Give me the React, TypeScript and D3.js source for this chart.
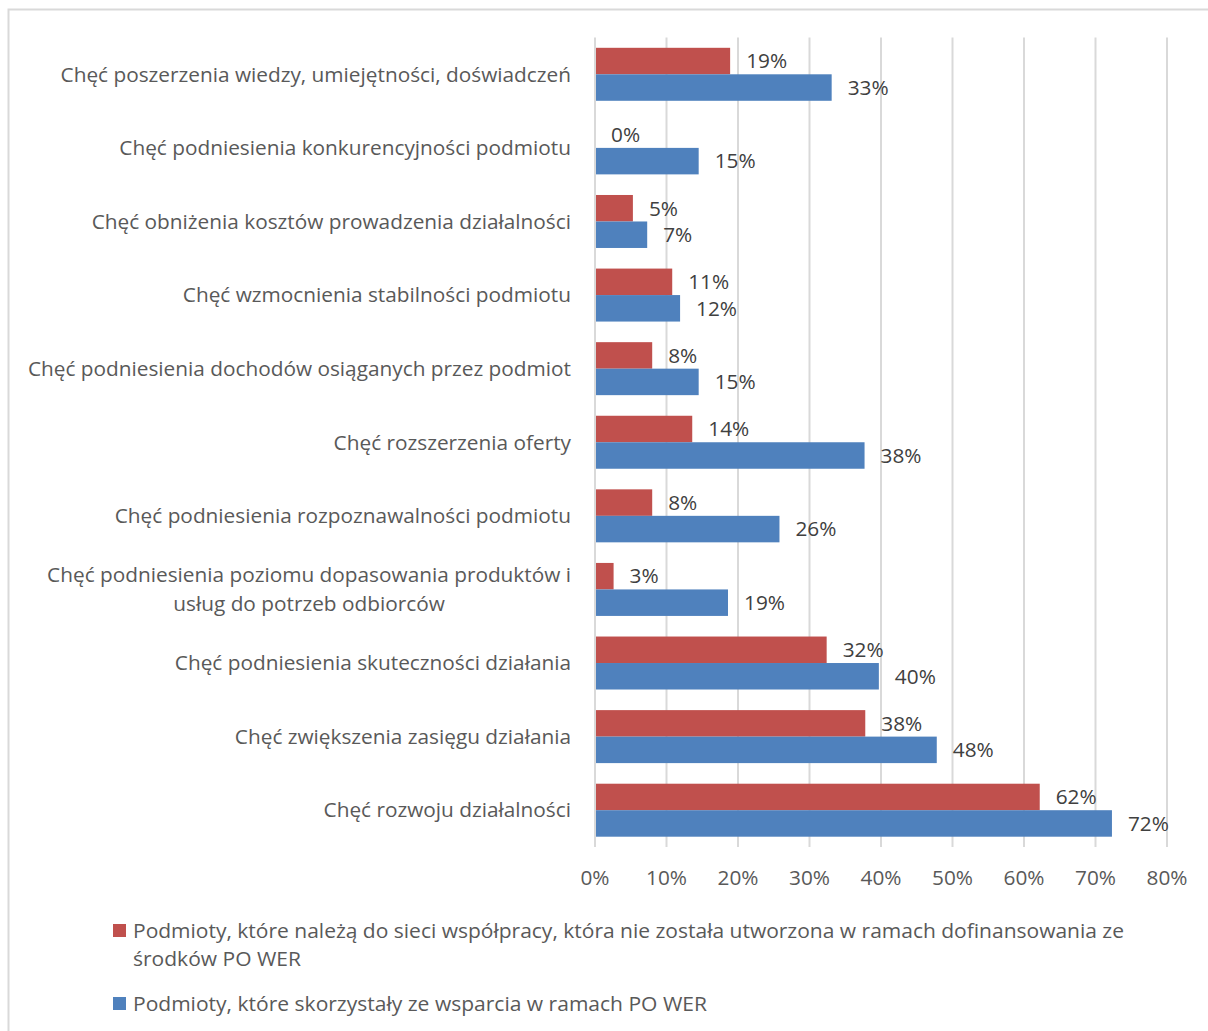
import React, { useEffect, useRef } from "react";
import * as d3 from "d3";

const categories: string[][] = [
  ["Chęć poszerzenia wiedzy, umiejętności, doświadczeń"],
  ["Chęć podniesienia konkurencyjności podmiotu"],
  ["Chęć obniżenia kosztów prowadzenia działalności"],
  ["Chęć wzmocnienia stabilności podmiotu"],
  ["Chęć podniesienia dochodów osiąganych przez podmiot"],
  ["Chęć rozszerzenia oferty"],
  ["Chęć podniesienia rozpoznawalności podmiotu"],
  ["Chęć podniesienia poziomu dopasowania produktów i", "usług do potrzeb odbiorców"],
  ["Chęć podniesienia skuteczności działania"],
  ["Chęć zwiększenia zasięgu działania"],
  ["Chęć rozwoju działalności"],
];

// Podmioty, które należą do sieci współpracy ... (red)
const seriesNetwork: number[] = [18.9, 0, 5.3, 10.8, 8.0, 13.6, 8.0, 2.6, 32.4, 37.8, 62.2];
// Podmioty, które skorzystały ze wsparcia w ramach PO WER (blue)
const seriesSupport: number[] = [33.1, 14.5, 7.3, 11.9, 14.5, 37.7, 25.8, 18.6, 39.7, 47.8, 72.3];

const ticks: number[] = [0, 10, 20, 30, 40, 50, 60, 70, 80];

const legendNetwork: string[] = [
  "Podmioty, które należą do sieci współpracy, która nie została utworzona w ramach dofinansowania ze",
  "środków PO WER",
];
const legendSupport: string[] = ["Podmioty, które skorzystały ze wsparcia w ramach PO WER"];

const RED = "#C0504D";
const BLUE = "#4F81BD";
const TEXT = "#595959";
const FONT = "'Open Sans', sans-serif";
const FS = 20.8;

export default function App() {
  const ref = useRef<SVGSVGElement>(null);

  useEffect(() => {
    const svg = d3.select(ref.current);
    svg.selectAll("*").remove();

    // chart frame
    svg.append("rect")
      .attr("x", 8.5).attr("y", 9.5).attr("width", 1300).attr("height", 1100)
      .attr("fill", "#fff").attr("stroke", "#d9d9d9").attr("stroke-width", 2);

    const x = d3.scaleLinear().domain([0, 80]).range([595, 1167]);
    const idx = categories.map((_, i) => String(i));
    const y = d3.scaleBand().domain(idx).range([37.5, 847]).paddingInner(0.28).paddingOuter(0.14);
    const bh = y.bandwidth() / 2;

    // gridlines
    svg.append("g").selectAll("line").data(ticks.slice(1)).join("line")
      .attr("x1", (d) => x(d)).attr("x2", (d) => x(d))
      .attr("y1", 37.5).attr("y2", 847)
      .attr("stroke", "#d9d9d9").attr("stroke-width", 2);

    // bars
    const g = svg.append("g");
    g.selectAll("rect.red").data(seriesNetwork).join("rect").attr("class", "red")
      .attr("x", x(0)).attr("y", (_, i) => y(String(i))!)
      .attr("width", (d) => x(d) - x(0)).attr("height", bh).attr("fill", RED);
    g.selectAll("rect.blue").data(seriesSupport).join("rect").attr("class", "blue")
      .attr("x", x(0)).attr("y", (_, i) => y(String(i))! + bh)
      .attr("width", (d) => x(d) - x(0)).attr("height", bh).attr("fill", BLUE);

    // axis line
    svg.append("line").attr("x1", x(0)).attr("x2", x(0)).attr("y1", 37.5).attr("y2", 847)
      .attr("stroke", "#d9d9d9").attr("stroke-width", 2);

    // value labels
    const lab = svg.append("g").attr("font-family", FONT).attr("font-size", FS).attr("fill", "#404040");
    seriesNetwork.forEach((v, i) => {
      lab.append("text").attr("x", x(v) + 16).attr("y", y(String(i))! + bh / 2)
        .attr("dy", "0.35em").text(`${Math.round(v)}%`);
    });
    seriesSupport.forEach((v, i) => {
      lab.append("text").attr("x", x(v) + 16).attr("y", y(String(i))! + bh * 1.5)
        .attr("dy", "0.35em").text(`${Math.round(v)}%`);
    });

    // category labels
    const cat = svg.append("g").attr("font-family", FONT).attr("font-size", FS).attr("fill", TEXT);
    categories.forEach((lines, i) => {
      const cy = y(String(i))! + bh;
      const lh = 29;
      const t = cat.append("text");
      lines.forEach((ln, j) => {
        t.append("tspan").attr("y", cy + (j - (lines.length - 1) / 2) * lh).attr("dy", "0.35em").text(ln);
      });
      if (lines.length === 1) {
        t.attr("text-anchor", "end").selectAll("tspan").attr("x", 571);
      } else {
        const widths = t.selectAll<SVGTSpanElement, unknown>("tspan").nodes().map((n) => n.getComputedTextLength());
        const maxW = Math.max(...widths);
        t.attr("text-anchor", "middle").selectAll("tspan").attr("x", 571 - maxW / 2);
      }
    });

    // tick labels
    svg.append("g").attr("font-family", FONT).attr("font-size", FS).attr("fill", TEXT)
      .selectAll("text").data(ticks).join("text")
      .attr("x", (d) => x(d)).attr("y", 878).attr("dy", "0.35em").attr("text-anchor", "middle")
      .text((d) => `${d}%`);

    // legend
    const leg = svg.append("g").attr("font-family", FONT).attr("font-size", FS).attr("fill", TEXT);
    const items = [
      { color: RED, lines: legendNetwork, y0: 931, widths: [991, 168] },
      { color: BLUE, lines: legendSupport, y0: 1004, widths: [574] },
    ];
    items.forEach((it) => {
      leg.append("rect").attr("x", 113).attr("y", it.y0 - 7).attr("width", 13).attr("height", 13).attr("fill", it.color);
      it.lines.forEach((ln, j) => {
        leg.append("text").attr("x", 133).attr("y", it.y0 + j * 28).attr("dy", "0.35em")
          .attr("textLength", it.widths[j]).attr("lengthAdjust", "spacingAndGlyphs").text(ln);
      });
    });
  }, []);

  return (
    <svg ref={ref} width={1208} height={1031}
      style={{ position: "absolute", left: 0, top: 0, display: "block", background: "#fff" }} />
  );
}
